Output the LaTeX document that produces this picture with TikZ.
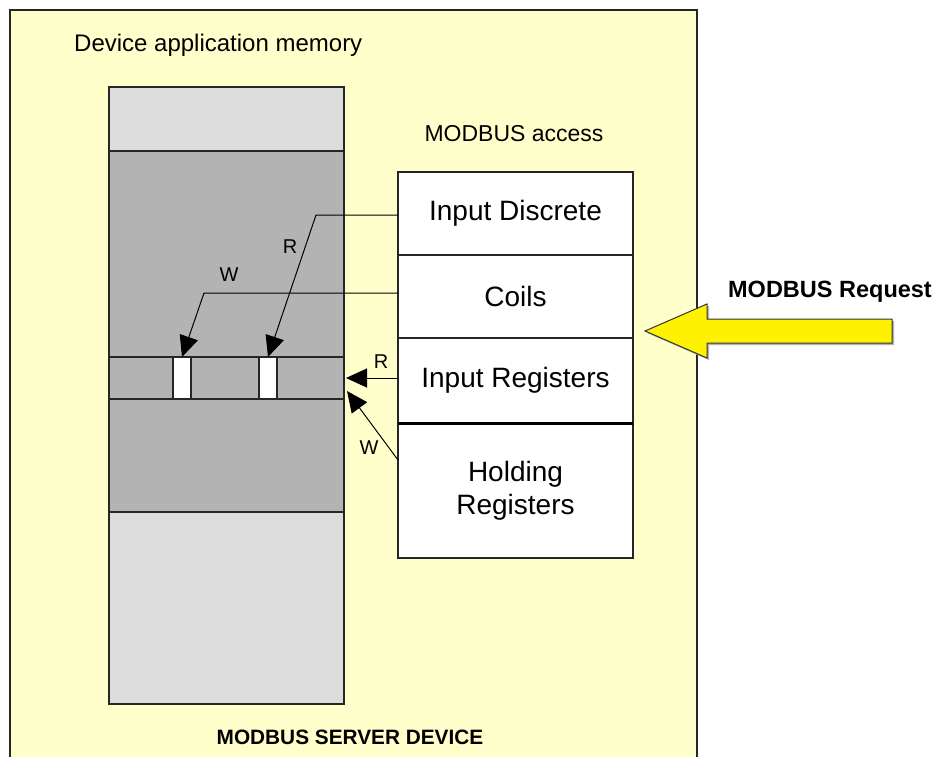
\documentclass[tikz,border=0pt]{standalone}
\usepackage{fontspec}
\setmainfont{Liberation Sans}
\usetikzlibrary{arrows.meta}
\definecolor{bgyellow}{HTML}{FFFFCC}
\definecolor{darkgr}{HTML}{B3B3B3}
\definecolor{lightgr}{HTML}{DCDCDC}
\tikzset{
  memsec/.style={draw=black!85, line width=1.3pt, anchor=north west, inner sep=0pt, outer sep=0pt},
  slot/.style={draw=black!85, fill=white, line width=1.3pt, anchor=north west, minimum width=18pt, minimum height=42pt, inner sep=0pt, outer sep=0pt},
  regbox/.style={draw=black!85, fill=white, line width=1.3pt, anchor=north west, minimum width=235pt, inner sep=0pt, outer sep=0pt, align=center, font=\fontsize{28}{33}\selectfont},
  conn/.style={draw=black, line width=1pt, -{Triangle[length=21pt,width=19pt]}},
  rwlabel/.style={font=\fontsize{20}{24}\selectfont, inner sep=0pt},
}
\begin{document}
\begin{tikzpicture}[x=1pt,y=-1pt]
\useasboundingbox (0,0) rectangle (936,756);
\fill[white] (0,0) rectangle (936,756);
% outer device frame
\draw[fill=bgyellow, draw=black!85, line width=1.3pt] (10,10) rectangle (697,790);
\node[font=\fontsize{24}{28}\selectfont, anchor=west, inner sep=0pt] (devmem) at (74,45) {Device application memory};
\node[font=\bfseries\fontsize{20.8}{25}\selectfont] (server) at (350,737) {MODBUS SERVER DEVICE};
% memory column
\node[memsec, fill=lightgr, minimum width=235pt, minimum height=64pt] (memtop) at (109,87) {};
\node[memsec, fill=darkgr, minimum width=235pt, minimum height=361pt] (memmid) at (109,151) {};
\node[memsec, fill=lightgr, minimum width=235pt, minimum height=192pt] (membot) at (109,512) {};
\node[memsec, fill=darkgr, minimum width=235pt, minimum height=42pt] (band) at (109,357) {};
\node[slot] (slotA) at (173,357) {};
\node[slot] (slotB) at (259,357) {};
% MODBUS access tables
\node[font=\fontsize{23}{27}\selectfont] (access) at (514,134) {MODBUS access};
\node[regbox, minimum height=83pt] (idisc) at (398,172) {Input Discrete};
\node[regbox, minimum height=83pt] (coils) at (398,255) {Coils};
\node[regbox, minimum height=85pt] (ireg) at (398,338) {Input Registers};
\node[regbox, minimum height=135pt] (hreg) at (398,423) {Holding\\Registers};
\draw[black, line width=3pt] (ireg.south west) -- (ireg.south east);
% connectors
\coordinate (bendR) at (316,215);
\coordinate (bendW) at (204,293);
\draw[conn] (idisc.west |- bendR) -- (bendR) -- (slotB.north);
\draw[conn] (coils.west |- bendW) -- (bendW) -- (slotA.north);
\coordinate (tipR) at (346,378);
\coordinate (tipW) at (347,391);
\coordinate (srcW) at (398,460);
\draw[conn] (ireg.west |- tipR) -- (tipR);
\draw[conn] (srcW) -- (tipW);
\node[rwlabel] (lR1) at (290,247) {R};
\node[rwlabel] (lW1) at (229,275) {W};
\node[rwlabel] (lR2) at (381,362) {R};
\node[rwlabel] (lW2) at (369,448) {W};
% MODBUS request arrow
\fill[black!30] (647,333) -- (709,306) -- (709,321) -- (894,321) -- (894,345) -- (709,345) -- (709,360) -- cycle;
\draw[fill=yellow, draw=black!80, line width=1pt] (645,331) -- (707,304) -- (707,319) -- (892,319) -- (892,343) -- (707,343) -- (707,358) -- cycle;
\node[font=\bfseries\fontsize{23.5}{28}\selectfont] (req) at (830,292) {MODBUS Request};
\end{tikzpicture}
\end{document}
